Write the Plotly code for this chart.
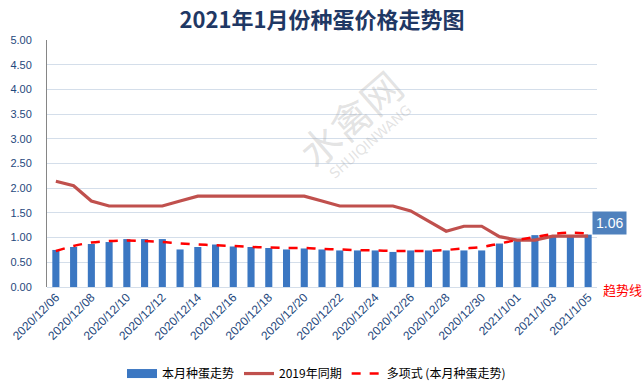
import plotly.graph_objects as go

dates = ["2020/12/06", "2020/12/07", "2020/12/08", "2020/12/09", "2020/12/10", "2020/12/11",
         "2020/12/12", "2020/12/13", "2020/12/14", "2020/12/15", "2020/12/16", "2020/12/17",
         "2020/12/18", "2020/12/19", "2020/12/20", "2020/12/21", "2020/12/22", "2020/12/23",
         "2020/12/24", "2020/12/25", "2020/12/26", "2020/12/27", "2020/12/28", "2020/12/29",
         "2020/12/30", "2020/12/31", "2021/1/01", "2021/1/02", "2021/1/03", "2021/1/04",
         "2021/1/05"]

this_month = [0.75, 0.81, 0.87, 0.91, 0.97, 0.97, 0.97, 0.76, 0.81, 0.86, 0.82, 0.81,
              0.79, 0.76, 0.78, 0.76, 0.74, 0.74, 0.74, 0.71, 0.74, 0.74, 0.74, 0.74,
              0.74, 0.88, 0.93, 1.05, 1.04, 1.04, 1.06]

same_period_2019 = [2.14, 2.05, 1.74, 1.64, 1.64, 1.64, 1.64, 1.74, 1.84, 1.84, 1.84, 1.84,
                    1.84, 1.84, 1.84, 1.74, 1.64, 1.64, 1.64, 1.64, 1.54, 1.34, 1.13, 1.23,
                    1.23, 1.02, 0.95, 0.95, 1.03, 1.03, 1.03]

trend = [0.73, 0.83, 0.90, 0.93, 0.94, 0.93, 0.91, 0.88, 0.86, 0.845, 0.83, 0.81,
         0.80, 0.79, 0.79, 0.77, 0.76, 0.745, 0.74, 0.73, 0.73, 0.73, 0.75, 0.78,
         0.81, 0.88, 0.95, 1.01, 1.07, 1.10, 1.08]

tick_labels = dates[::2]

title_text = "2021年1月份种蛋价格走势图"
names = ["本月种蛋走势", "2019年同期", "多项式 (本月种蛋走势)"]

num_font = "Liberation Sans, Noto Sans CJK SC, sans-serif"
cjk_font = "Noto Sans CJK SC, sans-serif"
axis_color = "#1f497d"
bar_color = "#3b77c2"

PL, PT, PW, PH = 47, 40, 550, 246.6  # plot area (pixels)


def px(x):
    return (x - PL) / PW


def py(y):
    return (PT + PH - y) / PH


fig = go.Figure()
fig.add_trace(go.Bar(x=dates, y=this_month, name=names[0], showlegend=False,
                     marker=dict(color=bar_color, line=dict(width=0))))
# legend swatch for bars (wide rectangle, as in the original)
fig.add_trace(go.Scatter(x=[dates[0]], y=[None], name=names[0], mode="lines",
                         line=dict(color=bar_color, width=9)))
fig.add_trace(go.Scatter(x=dates, y=same_period_2019, name=names[1], mode="lines",
                         line=dict(color="#c0504d", width=3.2)))
fig.add_trace(go.Scatter(x=dates, y=trend, name=names[2], mode="lines",
                         line=dict(color="#ff0000", width=2.5, dash="dash", shape="spline")))

# watermark
fig.add_annotation(text="水禽网", xref="paper", yref="paper", x=px(350), y=py(118),
                   xanchor="center", yanchor="middle", showarrow=False, textangle=-41,
                   font=dict(family=cjk_font, size=40, color="rgba(160,160,160,0.30)"))
fig.add_annotation(text="SHUIQINWANG", xref="paper", yref="paper", x=px(370), y=py(142),
                   xanchor="center", yanchor="middle", showarrow=False, textangle=-41,
                   font=dict(family="DejaVu Sans, sans-serif", size=14,
                             color="rgba(160,160,160,0.30)"))

# last value label
fig.add_annotation(x=dates[-1], y=this_month[-1], text=f"{this_month[-1]:.2f}",
                   showarrow=False, xshift=21, yshift=12, bgcolor="#4f81bd",
                   xanchor="center", yanchor="middle",
                   borderpad=3, font=dict(family=num_font, size=14, color="white"))
# trend line note
fig.add_annotation(text="趋势线", xref="paper", yref="paper", x=px(622), y=py(289),
                   xanchor="center", yanchor="middle", showarrow=False,
                   font=dict(family=cjk_font, size=13, color="#ff0000"))

fig.update_layout(
    width=643, height=390,
    margin=dict(l=PL, r=643 - PL - PW, t=PT, b=390 - PT - PH, autoexpand=False),
    paper_bgcolor="white", plot_bgcolor="white",
    title=dict(text=f"<b>{title_text}</b>", x=0.5, xanchor="center", y=0.948, yanchor="middle",
               xref="paper",
               font=dict(family=cjk_font, size=22, color="#1f3864")),
    bargap=0.6,
    showlegend=True,
    legend=dict(orientation="h", x=0.49, xanchor="center", y=py(373), yanchor="middle",
                font=dict(family=cjk_font, size=12, color="#000000"),
                bgcolor="rgba(0,0,0,0)", tracegroupgap=0),
    xaxis=dict(type="category", categoryorder="array", categoryarray=dates,
               range=[-0.5, len(dates) - 0.5],
               tickmode="array", tickvals=tick_labels, ticktext=tick_labels,
               tickangle=-45, tickfont=dict(family=num_font, size=12, color=axis_color),
               showgrid=False, showline=False, ticks="", zeroline=False, automargin=False),
    yaxis=dict(range=[0, 5], dtick=0.5, tickformat=".2f",
               tickfont=dict(family=num_font, size=11, color=axis_color),
               showgrid=True, gridcolor="#d4deea", gridwidth=1,
               showline=True, linecolor="#868686", linewidth=1,
               zeroline=True, zerolinecolor="#d4deea", zerolinewidth=1,
               ticks="", ticklabelstandoff=12, automargin=False),
)

fig.write_html("out.html", config={"displayModeBar": False},
               post_script="document.body.style.margin='0';")
